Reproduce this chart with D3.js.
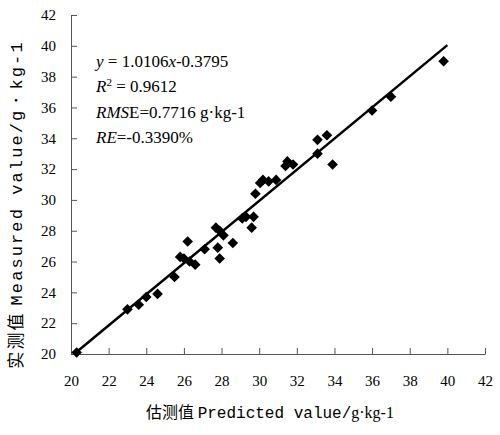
<!DOCTYPE html>
<meta charset="utf-8">
<style>
body { margin: 0; background: #fff; }
.tick text { font-size: 15px; fill: #000; }
.domain, .tick line { stroke: #555; }
.serif { font-family: "Liberation Serif", "Times New Roman", serif; }
.mono { font-family: "Liberation Mono", "Courier New", monospace; }
.cjk { font-family: "Noto Sans CJK SC", sans-serif; }
</style>
<body>
<script src="https://d3js.org/d3.v7.min.js"></script>
<script>

// predicted (x) and measured (y) values
var predicted = [20.3, 23.0, 23.6, 24.0, 24.6, 25.5, 25.8, 26.0, 26.2, 26.3, 26.6, 27.1,
                 27.7, 27.9, 28.1, 27.8, 27.9, 28.6, 29.1, 29.3, 29.6, 29.7, 29.8, 30.05,
                 30.2, 30.5, 30.9, 31.4, 31.5, 31.8, 33.1, 33.1, 33.6, 33.9, 36.0, 37.0, 39.8];
var measured  = [20.1, 22.9, 23.2, 23.7, 23.9, 25.0, 26.3, 26.2, 27.3, 26.0, 25.8, 26.8,
                 28.2, 28.0, 27.7, 26.9, 26.2, 27.2, 28.8, 28.9, 28.2, 28.9, 30.4, 31.1,
                 31.3, 31.2, 31.3, 32.2, 32.5, 32.3, 33.9, 33.0, 34.2, 32.3, 35.8, 36.7, 39.0];
var ticks = [20, 22, 24, 26, 28, 30, 32, 34, 36, 38, 40, 42];
var fit = {slope: 1.0106, intercept: -0.3795, x0: 20.2, x1: 40};

var margin = {top: 15, right: 15, bottom: 81, left: 71},
    width = 500 - margin.left - margin.right,
    height = 435 - margin.top - margin.bottom;

var x = d3.scaleLinear().domain([20, 42]).range([0, width]);
var y = d3.scaleLinear().domain([20, 42]).range([height, 0]);

var svg = d3.select("body").append("svg")
    .attr("width", 500)
    .attr("height", 435)
  .append("g")
    .attr("transform", "translate(" + margin.left + "," + margin.top + ")");

// axes, ticks pointing inward
svg.append("g")
    .attr("transform", "translate(0," + height + ")")
    .call(d3.axisBottom(x).tickValues(ticks).tickSizeInner(-6).tickSizeOuter(0).tickPadding(21));
svg.append("g")
    .call(d3.axisLeft(y).tickValues(ticks).tickSizeInner(-6).tickSizeOuter(0).tickPadding(15));
svg.selectAll("g.tick text").attr("class", "serif");
svg.selectAll("g").filter(function() { return this.hasAttribute("font-family"); })
    .attr("font-family", "Liberation Serif");

// fitted line
svg.append("line")
    .attr("x1", x(fit.x0)).attr("y1", y(fit.slope * fit.x0 + fit.intercept))
    .attr("x2", x(fit.x1)).attr("y2", y(fit.slope * fit.x1 + fit.intercept))
    .style("stroke", "#000")
    .style("stroke-width", 2.5);

// diamond markers
var pts = predicted.map(function(d, i) { return [d, measured[i]]; });
svg.selectAll(".pt")
    .data(pts)
  .enter().append("path")
    .attr("class", "pt")
    .attr("d", d3.symbol().type(d3.symbolDiamond2).size(72))
    .attr("transform", function(d) { return "translate(" + x(d[0]) + "," + y(d[1]) + ")"; })
    .style("fill", "#000");

// equation text
var ann = svg.append("text")
    .attr("class", "serif")
    .attr("font-size", "17px");
var l1 = ann.append("tspan").attr("x", 25).attr("y", 52);
l1.append("tspan").attr("font-style", "italic").text("y");
l1.append("tspan").text(" = 1.0106");
l1.append("tspan").attr("font-style", "italic").text("x");
l1.append("tspan").text("-0.3795");
var l2 = ann.append("tspan").attr("x", 25).attr("y", 77);
l2.append("tspan").attr("font-style", "italic").text("R");
l2.append("tspan").attr("font-size", "11px").attr("dy", -6).text("2");
l2.append("tspan").attr("dy", 6).text(" = 0.9612");
var l3 = ann.append("tspan").attr("x", 25).attr("y", 103);
l3.append("tspan").attr("font-style", "italic").text("RMS");
l3.append("tspan").text("E=0.7716 g·kg-1");
var l4 = ann.append("tspan").attr("x", 25).attr("y", 128);
l4.append("tspan").attr("font-style", "italic").text("RE");
l4.append("tspan").text("=-0.3390%");

// axis titles
var xt = svg.append("text")
    .attr("x", width / 2 - 8)
    .attr("y", height + 64)
    .attr("text-anchor", "middle")
    .attr("font-size", "16px");
xt.append("tspan").attr("class", "cjk").text("估测值 ");
xt.append("tspan").attr("class", "mono").text("Predicted value/");
xt.append("tspan").attr("class", "serif").text("g·kg-1");

var yt = svg.append("text")
    .attr("transform", "translate(-49," + (height / 2 + 20) + ") rotate(-90)")
    .attr("text-anchor", "middle")
    .attr("font-size", "17px")
    .attr("letter-spacing", "2.1px");
yt.append("tspan").attr("class", "cjk").text("实测值 ");
yt.append("tspan").attr("class", "mono").text("Measured value/g・kg-1");

</script>
</body>
